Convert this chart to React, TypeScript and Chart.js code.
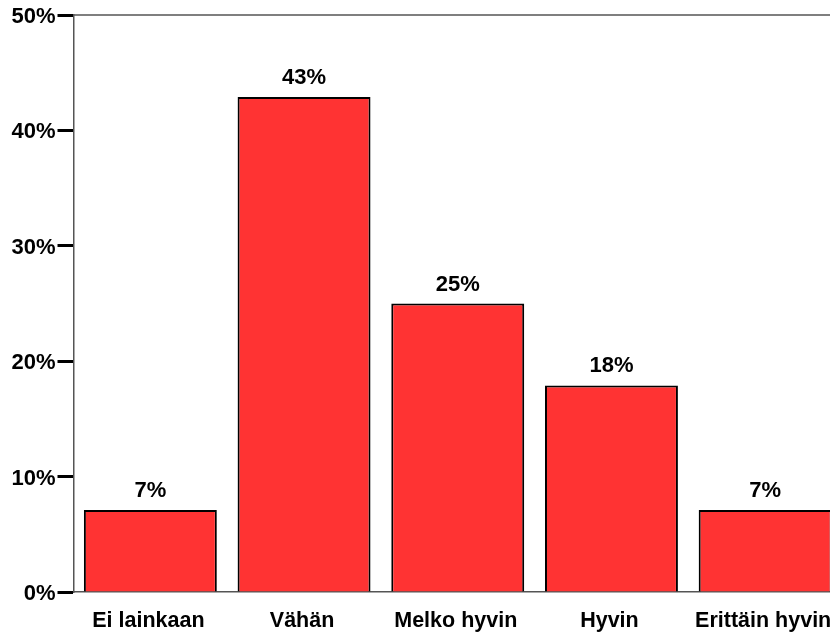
import React, { useEffect, useRef } from "react";
import { Chart, registerables } from "chart.js";

Chart.register(...registerables);

const categories = ["Ei lainkaan", "Vähän", "Melko hyvin", "Hyvin", "Erittäin hyvin"];
const values = [7.1, 42.9, 25.0, 17.9, 7.1];
const yTicks = [0, 10, 20, 30, 40, 50];

const FONT = "'Liberation Sans', Arial, sans-serif";

const framePlugin = {
  id: "frame",
  afterDraw(chart: any) {
    const { ctx, chartArea } = chart;
    ctx.save();
    ctx.strokeStyle = "#555555";
    ctx.lineWidth = 1.5;
    ctx.beginPath();
    ctx.moveTo(chartArea.left, chartArea.top);
    ctx.lineTo(chart.width, chartArea.top);
    ctx.stroke();
    const meta = chart.getDatasetMeta(0);
    ctx.fillStyle = "#000";
    ctx.font = `bold 22px ${FONT}`;
    ctx.textAlign = "center";
    ctx.textBaseline = "alphabetic";
    meta.data.forEach((bar: any, i: number) => {
      const v = chart.data.datasets[0].data[i] as number;
      ctx.fillText(Math.round(v) + "%", bar.x, bar.y - 13);
    });
    ctx.restore();
  },
};

export default function App() {
  const ref = useRef<HTMLCanvasElement>(null);
  useEffect(() => {
    const chart = new Chart(ref.current!, {
      type: "bar",
      data: {
        labels: categories,
        datasets: [
          {
            data: values,
            backgroundColor: "#FF3333",
            borderColor: "#000000",
            borderWidth: 2,
            barPercentage: 0.865,
            categoryPercentage: 1,
          },
        ],
      },
      options: {
        animation: false,
        responsive: false,
        maintainAspectRatio: false,
        layout: { padding: { top: 15, right: 1, left: 0, bottom: 0 } },
        plugins: { legend: { display: false }, tooltip: { enabled: false } },
        scales: {
          x: {
            grid: { display: false, drawTicks: false },
            border: { display: true, color: "#555555", width: 1.5 },
            ticks: {
              color: "#000",
              font: { family: FONT, size: 21.5, weight: "bold" },
              padding: 16,
              labelOffset: -2,
              maxRotation: 0,
              autoSkip: false,
            },
            afterFit(scale: any) {
              scale.height = 40;
              scale.paddingLeft = 0;
              scale.paddingRight = 0;
            },
          },
          y: {
            min: 0,
            max: 50,
            afterBuildTicks(scale: any) {
              scale.ticks = yTicks.map((v) => ({ value: v }));
            },
            grid: {
              drawOnChartArea: false,
              drawTicks: true,
              tickLength: 16,
              tickWidth: 3,
              tickColor: "#000000",
            },
            border: { display: true, color: "#555555", width: 1.5 },
            ticks: {
              color: "#000",
              font: { family: FONT, size: 22, weight: "bold" },
              padding: 2,
              labelOffset: 2,
              callback: (v: any) => v + "%",
            },
            afterFit(scale: any) {
              scale.width = 73.5;
              scale.paddingTop = 0;
              scale.paddingBottom = 0;
            },
          },
        },
      },
      plugins: [framePlugin],
    });
    return () => chart.destroy();
  }, []);
  return (
    <div style={{ position: "absolute", left: 0, top: 0, width: 830, height: 632, overflow: "hidden", background: "#fff" }}>
      <canvas ref={ref} width={843} height={632} style={{ display: "block" }} />
    </div>
  );
}
